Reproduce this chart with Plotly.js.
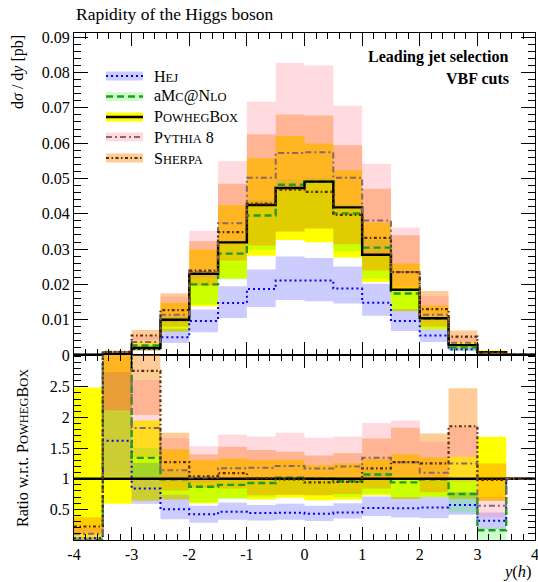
<!DOCTYPE html>
<html>
<head>
<meta charset="utf-8">
<script src="https://cdn.plot.ly/plotly-3.0.1.min.js"></script>
<style>
  html, body { margin: 0; padding: 0; background: #fff; }
  #chart { width: 538px; height: 582px; }
</style>
</head>
<body>
<div id="chart"></div>
<script>
// Rapidity of the Higgs boson, leading jet selection with VBF cuts.
// Bin edges in y(h) and dsigma/dy [pb] per generator: central value plus uncertainty band.
const binEdges = [-4, -3.5, -3, -2.5, -2, -1.5, -1, -0.5, 0, 0.5, 1, 1.5, 2, 2.5, 3, 3.5, 4];

const powheg   = [0.00010, 0.00025, 0.0020, 0.0100, 0.0230, 0.0319, 0.0425, 0.0473, 0.0491, 0.0418, 0.0284, 0.0185, 0.0104, 0.0028, 0.0008, 0.00005];
const powhegLo = [0, 0.000148, 0.00128, 0.0066, 0.0138, 0.0217, 0.0281, 0.0326, 0.0319, 0.0276, 0.0207, 0.0124, 0.0073, 0.00188, 0.000512, 0.00005];
const powhegHi = [0.000249, 0.000875, 0.0039, 0.0148, 0.0299, 0.0424, 0.0557, 0.0620, 0.0599, 0.0523, 0.0375, 0.0259, 0.0140, 0.00381, 0.00135, 0.00005];

const hej   = [0.000003, 0.000405, 0.00168, 0.0050, 0.00966, 0.0147, 0.0187, 0.0211, 0.0211, 0.0188, 0.0148, 0.0096, 0.0055, 0.0016, 0.00025, 0.00005];
const hejLo = [0, 0.000258, 0.00118, 0.0034, 0.00644, 0.0105, 0.0136, 0.0156, 0.0152, 0.0146, 0.0111, 0.0068, 0.0037, 0.00115, 0.000144, 0.00005];
const hejHi = [0.000005, 0.000685, 0.00252, 0.0074, 0.0129, 0.0195, 0.0242, 0.0279, 0.0275, 0.0251, 0.0202, 0.0130, 0.0073, 0.00218, 0.00036, 0.00005];

const amc   = [0, 0.000825, 0.00268, 0.0099, 0.0200, 0.0287, 0.0395, 0.0482, 0.0491, 0.0401, 0.0304, 0.0174, 0.0103, 0.0021, 0.000128, 0.00005];
const amcLo = [0, 0.000775, 0.00206, 0.0074, 0.0143, 0.0214, 0.0298, 0.0350, 0.0358, 0.0293, 0.0216, 0.0130, 0.0073, 0.00126, 0, 0.00005];
const amcHi = [0, 0.0010, 0.0030, 0.0112, 0.0230, 0.0325, 0.0438, 0.0497, 0.0501, 0.0426, 0.0327, 0.0185, 0.0106, 0.00277, 0.00016, 0.00005];

const pythia   = [0.00001, 0.00085, 0.00366, 0.0114, 0.0235, 0.0373, 0.0502, 0.0572, 0.0574, 0.0502, 0.0381, 0.0235, 0.0114, 0.0035, 0.000448, 0.00005];
const pythiaLo = [0, 0.00053, 0.0027, 0.0095, 0.0219, 0.0319, 0.0425, 0.0473, 0.0491, 0.0418, 0.0284, 0.0194, 0.0104, 0.00266, 0.000296, 0.00005];
const pythiaHi = [0.00002, 0.001125, 0.00522, 0.0166, 0.0352, 0.0549, 0.0718, 0.0828, 0.0820, 0.0706, 0.0542, 0.0361, 0.0167, 0.00518, 0.00056, 0.00005];

const sherpa   = [0.000022, 0.000875, 0.00552, 0.0127, 0.0239, 0.0348, 0.0429, 0.0468, 0.0462, 0.0397, 0.0332, 0.0235, 0.0130, 0.0052, 0.000784, 0.00005];
const sherpaLo = [0.00001, 0.00053, 0.00408, 0.0081, 0.0196, 0.0268, 0.0310, 0.0350, 0.0358, 0.0314, 0.0239, 0.0181, 0.0081, 0.0038, 0.000512, 0.00005];
const sherpaHi = [0.000037, 0.001125, 0.0071, 0.0175, 0.0322, 0.0485, 0.0625, 0.0681, 0.0678, 0.0594, 0.0471, 0.0339, 0.0181, 0.00694, 0.0010, 0.00005];

const xTickVals = [-4, -3, -2, -1, 0, 1, 2, 3, 4];
const xTickText = ['-4', '-3', '-2', '-1', '0', '1', '2', '3', '4'];
const ratioTickVals = [0.5, 1, 1.5, 2, 2.5];
const ratioTickText = ['0.5', '1', '1.5', '2', '2.5'];

// ---- styling ----
const FONT = '"Liberation Serif", "DejaVu Serif", serif';
const W = 538, H = 582, ML = 74, MR = 3, MT = 33, MB = 42;
const px2x = p => (p - ML) / (W - ML - MR);
const px2y = p => (H - MB - p) / (H - MT - MB);
const splitY = px2y(355);

const styles = {
  hej:    { color: '#0000ff', dash: '2px,3px', width: 2, band: 'rgba(0,0,255,0.2)' },
  amc:    { color: '#239b23', dash: '7px,4px', width: 2.4, band: 'rgba(0,255,0,0.2)' },
  powheg: { color: '#000000', dash: 'solid', width: 2.4, band: '#ffff00' },
  pythia: { color: '#86686a', dash: '6px,3px,2px,3px', width: 2, band: 'rgba(255,110,130,0.25)' },
  sherpa: { color: '#5a2c00', dash: '3px,2.5px,1.5px,2.5px', width: 2.2, band: 'rgba(255,128,0,0.4)' }
};

const stepY = arr => arr.concat([arr[arr.length - 1]]);
const ratio = arr => arr.map((v, i) => v / powheg[i]);

function bandTraces(lo, hi, fill, xa, ya) {
  return [
    { x: binEdges, y: stepY(lo), xaxis: xa, yaxis: ya, type: 'scatter', mode: 'lines',
      line: { width: 0, shape: 'hv' }, hoverinfo: 'skip', showlegend: false },
    { x: binEdges, y: stepY(hi), xaxis: xa, yaxis: ya, type: 'scatter', mode: 'lines',
      line: { width: 0, shape: 'hv' }, fill: 'tonexty', fillcolor: fill, hoverinfo: 'skip', showlegend: false }
  ];
}
function lineTrace(vals, st, xa, ya) {
  return { x: binEdges, y: stepY(vals), xaxis: xa, yaxis: ya, type: 'scatter', mode: 'lines',
    line: { color: st.color, width: st.width, dash: st.dash, shape: 'hv' }, hoverinfo: 'skip', showlegend: false };
}

const series = [
  { key: 'powheg', c: powheg, lo: powhegLo, hi: powhegHi },
  { key: 'hej', c: hej, lo: hejLo, hi: hejHi },
  { key: 'amc', c: amc, lo: amcLo, hi: amcHi },
  { key: 'sherpa', c: sherpa, lo: sherpaLo, hi: sherpaHi },
  { key: 'pythia', c: pythia, lo: pythiaLo, hi: pythiaHi }
];
const lineOrder = ['hej', 'amc', 'powheg', 'pythia', 'sherpa'];

const traces = [];
[['x', 'y', false], ['x2', 'y2', true]].forEach(([xa, ya, isRatio]) => {
  series.forEach(s => {
    const lo = isRatio ? ratio(s.lo) : s.lo;
    const hi = isRatio ? ratio(s.hi) : s.hi;
    traces.push(...bandTraces(lo, hi, styles[s.key].band, xa, ya));
  });
  lineOrder.forEach(k => {
    const s = series.find(q => q.key === k);
    traces.push(lineTrace(isRatio ? ratio(s.c) : s.c, styles[k], xa, ya));
  });
});

const axisBase = {
  showline: true, linecolor: '#000', linewidth: 1, mirror: 'allticks',
  ticks: 'inside', tickcolor: '#000', tickwidth: 1,
  showgrid: false, zeroline: false, ticklabeloverflow: 'allow',
  tickfont: { family: FONT, size: 16, color: '#000' }
};

const sc = t => '<span style="font-size:12.5px">' + t + '</span>';

const legendRows = [
  { key: 'hej',    label: 'H' + sc('EJ'), y: 76 },
  { key: 'amc',    label: 'aM' + sc('C') + '@N' + sc('LO'), y: 96.5 },
  { key: 'powheg', label: 'P' + sc('OWHEG') + 'B' + sc('OX'), y: 117 },
  { key: 'pythia', label: 'P' + sc('YTHIA') + ' 8', y: 137 },
  { key: 'sherpa', label: 'S' + sc('HERPA'), y: 158 }
];

const shapes = [];
const annotations = [];
legendRows.forEach(r => {
  const st = styles[r.key];
  shapes.push({ type: 'rect', xref: 'paper', yref: 'paper',
    x0: px2x(106), x1: px2x(143), y0: px2y(r.y - 4.5), y1: px2y(r.y + 4.5),
    fillcolor: st.band, line: { width: 0 } });
  shapes.push({ type: 'line', xref: 'paper', yref: 'paper',
    x0: px2x(106), x1: px2x(143), y0: px2y(r.y), y1: px2y(r.y),
    line: { color: st.color, width: st.width, dash: st.dash } });
  annotations.push({ xref: 'paper', yref: 'paper', x: px2x(152), y: px2y(r.y),
    xanchor: 'left', yanchor: 'middle', showarrow: false, text: r.label,
    font: { family: FONT, size: 16, color: '#000' } });
});

annotations.push(
  { xref: 'paper', yref: 'paper', x: 0, y: px2y(14), xanchor: 'left', yanchor: 'middle', showarrow: false,
    text: 'Rapidity of the Higgs boson', font: { family: FONT, size: 17.5, color: '#000' } },
  { xref: 'paper', yref: 'paper', x: px2x(511), y: px2y(57), xanchor: 'right', yanchor: 'middle', showarrow: false,
    text: '<b>Leading jet selection</b>', font: { family: FONT, size: 16, color: '#000' } },
  { xref: 'paper', yref: 'paper', x: px2x(511), y: px2y(78), xanchor: 'right', yanchor: 'middle', showarrow: false,
    text: '<b>VBF cuts</b>', font: { family: FONT, size: 16, color: '#000' } },
  { xref: 'paper', yref: 'paper', x: px2x(18), y: px2y(33), xanchor: 'center', yanchor: 'top', showarrow: false,
    textangle: -90, text: 'd<i>σ</i> / d<i>y</i> [pb]', font: { family: FONT, size: 16, color: '#000' } },
  { xref: 'paper', yref: 'paper', x: px2x(22), y: px2y(448), xanchor: 'center', yanchor: 'middle', showarrow: false,
    textangle: -90, text: 'Ratio w.r.t. P' + sc('OWHEG') + 'B' + sc('OX'), font: { family: FONT, size: 16, color: '#000' } },
  { xref: 'paper', yref: 'paper', x: px2x(534), y: px2y(571), xanchor: 'right', yanchor: 'middle', showarrow: false,
    text: '<i>y</i>(<i>h</i>)', font: { family: FONT, size: 16.5, color: '#000' } }
);

const layout = {
  width: W, height: H,
  margin: { l: ML, r: MR, t: MT, b: MB, pad: 0 },
  paper_bgcolor: '#fff', plot_bgcolor: '#fff',
  showlegend: false,
  font: { family: FONT, color: '#000' },
  xaxis: Object.assign({}, axisBase, {
    domain: [0, 1], anchor: 'y', range: [-4, 4], showticklabels: false,
    tickmode: 'linear', tick0: -4, dtick: 1, ticklen: 13,
    minor: { ticks: 'inside', ticklen: 6, tick0: -4, dtick: 0.2, tickcolor: '#000', tickwidth: 1, showgrid: false }
  }),
  xaxis2: Object.assign({}, axisBase, {
    domain: [0, 1], anchor: 'y2', range: [-4, 4], matches: 'x',
    tickmode: 'array', tickvals: xTickVals, ticktext: xTickText, ticklen: 13,
    minor: { ticks: 'inside', ticklen: 6, tick0: -4, dtick: 0.2, tickcolor: '#000', tickwidth: 1, showgrid: false }
  }),
  yaxis: Object.assign({}, axisBase, {
    domain: [splitY, 1], anchor: 'x', range: [0, 0.0912],
    tickmode: 'linear', tick0: 0, dtick: 0.01, ticklen: 14,
    minor: { ticks: 'inside', ticklen: 7, tick0: 0, dtick: 0.002, tickcolor: '#000', tickwidth: 1, showgrid: false }
  }),
  yaxis2: Object.assign({}, axisBase, {
    domain: [0, splitY], anchor: 'x2', range: [0, 3.02],
    tickmode: 'array', tickvals: ratioTickVals, ticktext: ratioTickText, ticklen: 14,
    minor: { ticks: 'inside', ticklen: 7, tick0: 0, dtick: 0.1, tickcolor: '#000', tickwidth: 1, showgrid: false }
  }),
  shapes: shapes,
  annotations: annotations
};

Plotly.newPlot('chart', traces, layout, { staticPlot: true, displayModeBar: false });
</script>
</body>
</html>
